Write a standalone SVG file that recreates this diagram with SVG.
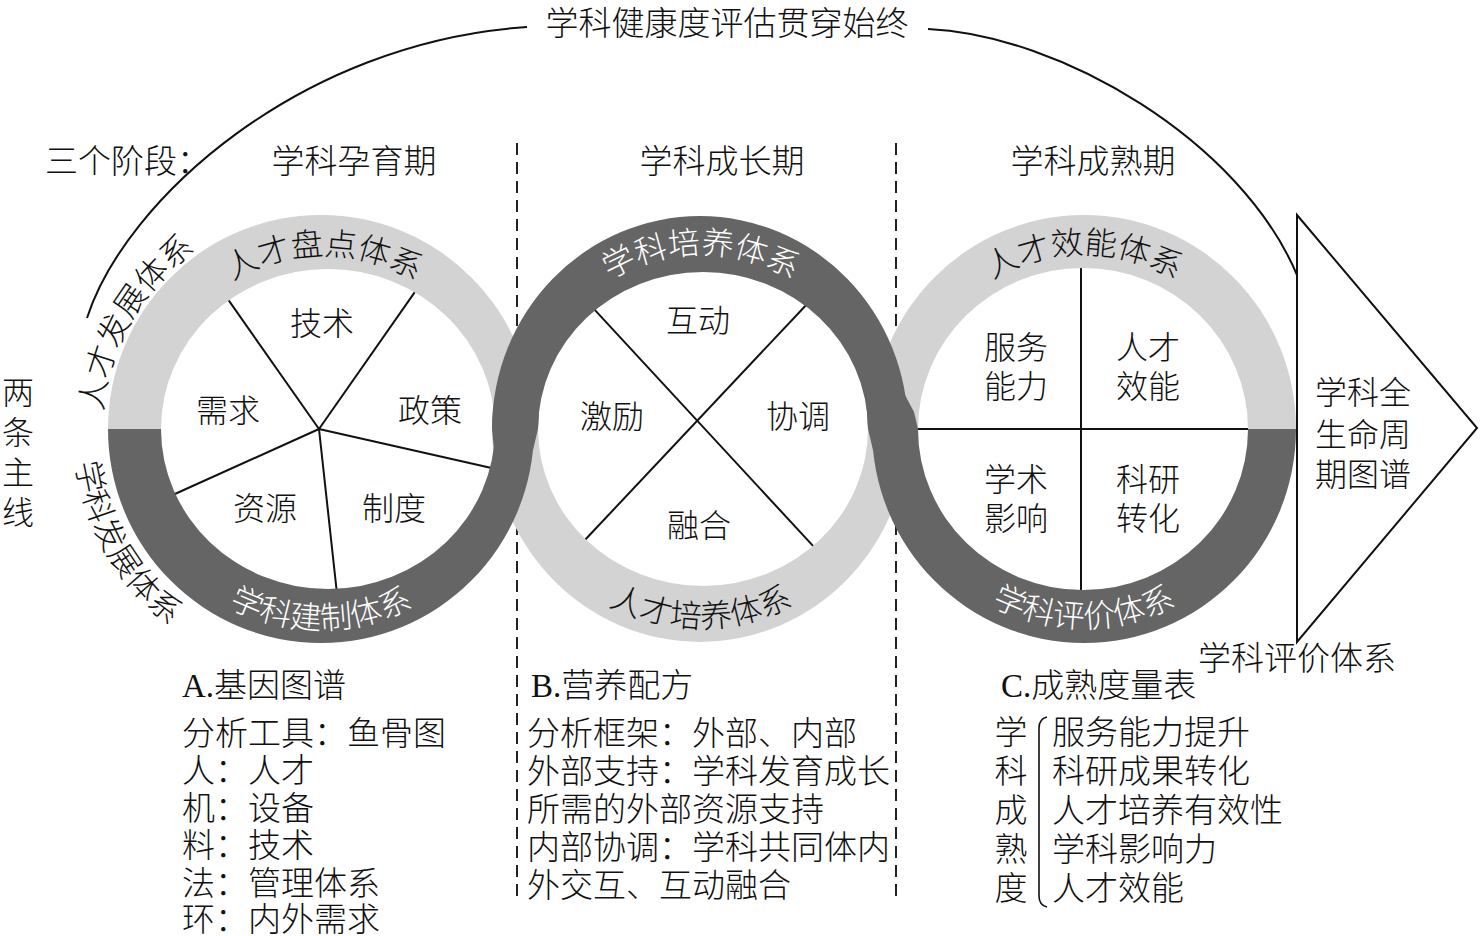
<svg xmlns="http://www.w3.org/2000/svg" width="1480" height="936" viewBox="0 0 1480 936">
<style>
.t{font-family:"Liberation Serif","Noto Sans CJK SC",serif;font-size:33px;font-weight:300;fill:#111}
.m{text-anchor:middle}
.r{font-size:32px}
.w{fill:#fff}
.ln{stroke:#111;stroke-width:2;fill:none}
.light{fill:#d3d3d3}
.dark{fill:#656565}
.dash{stroke:#222;stroke-width:2;stroke-dasharray:12 7;fill:none}
</style>
<defs>
<path id="p1t" d="M 151.7 399.6 A 175 175 0 0 1 496.3 399.6"/>
<path id="p1b" d="M 125 464.6 A 199 199 0 0 0 517 464.6"/>
<path id="p2t" d="M 528.6 399 A 175 175 0 0 1 873.4 399"/>
<path id="p2b" d="M 505 463 A 199 199 0 0 0 897 463"/>
<path id="p3t" d="M 911.6 399 A 175 175 0 0 1 1256.4 399"/>
<path id="p3b" d="M 888 463 A 199 199 0 0 0 1280 463"/>
<path id="pol" d="M 109.5 486.7 A 219 219 0 0 1 264.3 218.5"/>
<path id="pil" d="M 82.4 366.1 A 247 247 0 0 0 257.1 668.6"/>
</defs>

<g id="connectors">
<path class="ln" d="M 87 318 C 125 200, 300 42, 527 27"/>
<path class="ln" d="M 928 29 C 1060 35, 1240 140, 1297 275"/>
<line class="dash" x1="517" y1="143" x2="517" y2="900"/>
<line class="dash" x1="896" y1="143" x2="896" y2="898"/>
</g>

<g id="sector-lines">
<line class="ln" x1="319" y1="429" x2="222.4" y2="291.4"/>
<line class="ln" x1="319" y1="429" x2="421.6" y2="282.4"/>
<line class="ln" x1="319" y1="429" x2="494.8" y2="468.8"/>
<line class="ln" x1="319" y1="429" x2="337.9" y2="602"/>
<line class="ln" x1="319" y1="429" x2="166" y2="498"/>
<line class="ln" x1="587.6" y1="302.1" x2="820.4" y2="553.9"/>
<line class="ln" x1="813.5" y1="297.2" x2="579.5" y2="545.8"/>
<line class="ln" x1="1081" y1="262" x2="1081" y2="600"/>
<line class="ln" x1="912" y1="429" x2="1255" y2="429"/>
</g>

<g id="rings-light">
<path class="light" d="M 108 429 A 213 214 0 0 1 534 429 L 495 429 A 167 160 0 0 0 161 429 Z"/>
<path class="light" d="M 492 429 A 208 213 0 0 0 908 429 L 868 429 A 165 157 0 0 1 538 429 Z"/>
<path class="light" d="M 872 429 A 212 214 0 0 1 1296 429 L 1248 429 A 165 161 0 0 0 918 429 Z"/>
</g>
<g id="rings-dark">
<path class="dark" d="M 108 429 A 213 214 0 0 0 534 429 L 495 429 A 167 160 0 0 1 161 429 Z"/>
<path class="dark" d="M 492 429 A 208 213 0 0 1 908 429 L 868 429 A 165 157 0 0 0 538 429 Z"/>
<path class="dark" d="M 872 429 A 212 214 0 0 0 1296 429 L 1248 429 A 165 161 0 0 1 918 429 Z"/>
<path class="dark" d="M 493 410 L 539 410 L 538 429 L 533 450 L 494 450 L 492 429 Z"/>
<path class="dark" d="M 866 395 L 905 395 L 914 412 L 918 429 L 918 450 L 873 450 L 868 429 Z"/>
</g>

<g id="stage1">
<text class="t r"><textPath href="#p1t" startOffset="50%" text-anchor="middle">人才盘点体系</textPath></text>
<text class="t r w"><textPath href="#p1b" startOffset="50%" text-anchor="middle">学科建制体系</textPath></text>
<text class="t r m" x="322" y="335">技术</text>
<text class="t r m" x="228" y="422">需求</text>
<text class="t r m" x="430" y="422">政策</text>
<text class="t r m" x="265" y="520">资源</text>
<text class="t r m" x="394" y="520">制度</text>
</g>

<g id="stage2">
<text class="t r w"><textPath href="#p2t" startOffset="50%" text-anchor="middle">学科培养体系</textPath></text>
<text class="t r"><textPath href="#p2b" startOffset="50%" text-anchor="middle">人才培养体系</textPath></text>
<text class="t r m" x="698" y="332">互动</text>
<text class="t r m" x="612" y="428">激励</text>
<text class="t r m" x="798" y="428">协调</text>
<text class="t r m" x="699" y="537">融合</text>
</g>

<g id="stage3">
<text class="t r"><textPath href="#p3t" startOffset="50%" text-anchor="middle">人才效能体系</textPath></text>
<text class="t r w"><textPath href="#p3b" startOffset="50%" text-anchor="middle">学科评价体系</textPath></text>
<text class="t r m" x="1016" y="359">服务</text>
<text class="t r m" x="1016" y="398">能力</text>
<text class="t r m" x="1148" y="359">人才</text>
<text class="t r m" x="1148" y="398">效能</text>
<text class="t r m" x="1016" y="491">学术</text>
<text class="t r m" x="1016" y="530">影响</text>
<text class="t r m" x="1148" y="491">科研</text>
<text class="t r m" x="1148" y="530">转化</text>
</g>

<g id="mainlines">
<text class="t r"><textPath href="#pol" startOffset="50%" text-anchor="middle">人才发展体系</textPath></text>
<text class="t r"><textPath href="#pil" startOffset="50%" text-anchor="middle">学科发展体系</textPath></text>
<text class="t r m" x="18" y="404">两</text>
<text class="t r m" x="18" y="444">条</text>
<text class="t r m" x="18" y="484">主</text>
<text class="t r m" x="18" y="524">线</text>
</g>

<g id="lifecycle-arrow">
<polygon points="1297,215 1477,428 1297,642" fill="#fff" stroke="#111" stroke-width="2"/>
<text class="t r" x="1315" y="404">学科全</text>
<text class="t r" x="1315" y="446">生命周</text>
<text class="t r" x="1315" y="486">期图谱</text>
</g>

<g id="headers">
<text class="t m" x="727" y="35">学科健康度评估贯穿始终</text>
<text class="t" x="45" y="173">三个阶段：</text>
<text class="t m" x="354" y="173">学科孕育期</text>
<text class="t m" x="722" y="173">学科成长期</text>
<text class="t m" x="1093" y="173">学科成熟期</text>
<text class="t" x="1198" y="670">学科评价体系</text>
</g>

<g id="block-a">
<text class="t" x="182" y="697">A.基因图谱</text>
<text class="t" x="182" y="745">分析工具：鱼骨图</text>
<text class="t" x="182" y="782">人：人才</text>
<text class="t" x="182" y="820">机：设备</text>
<text class="t" x="182" y="857">料：技术</text>
<text class="t" x="182" y="895">法：管理体系</text>
<text class="t" x="182" y="931">环：内外需求</text>
</g>

<g id="block-b">
<text class="t" x="531" y="697">B.营养配方</text>
<text class="t" x="527" y="745">分析框架：外部、内部</text>
<text class="t" x="527" y="783">外部支持：学科发育成长</text>
<text class="t" x="527" y="821">所需的外部资源支持</text>
<text class="t" x="527" y="859">内部协调：学科共同体内</text>
<text class="t" x="527" y="897">外交互、互动融合</text>
</g>

<g id="block-c">
<text class="t" x="1001" y="697">C.成熟度量表</text>
<text class="t m" x="1011" y="744">学</text>
<text class="t m" x="1011" y="783">科</text>
<text class="t m" x="1011" y="822">成</text>
<text class="t m" x="1011" y="861">熟</text>
<text class="t m" x="1011" y="900">度</text>
<path d="M 1047 717 Q 1039 719 1039 728 L 1039 896 Q 1039 905 1047 907" fill="none" stroke="#111" stroke-width="1.6"/>
<text class="t" x="1052" y="744">服务能力提升</text>
<text class="t" x="1052" y="783">科研成果转化</text>
<text class="t" x="1052" y="822">人才培养有效性</text>
<text class="t" x="1052" y="861">学科影响力</text>
<text class="t" x="1052" y="900">人才效能</text>
</g>
</svg>
